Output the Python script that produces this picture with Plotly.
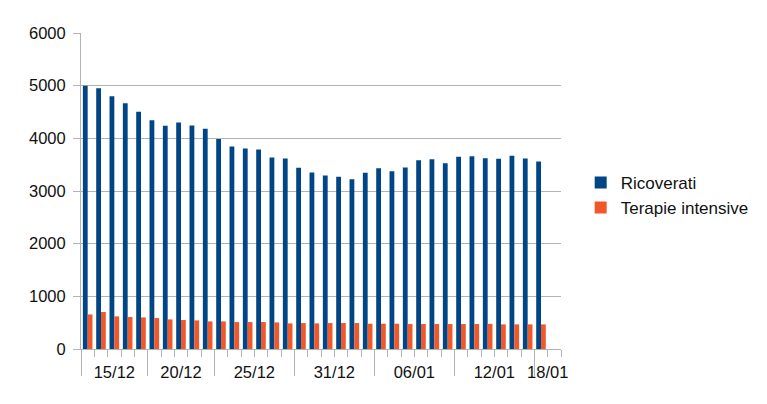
import plotly.graph_objects as go
import pandas as pd

dates = [
    "2020-12-15", "2020-12-16", "2020-12-17", "2020-12-18", "2020-12-19",
    "2020-12-20", "2020-12-21", "2020-12-22", "2020-12-23", "2020-12-24",
    "2020-12-25", "2020-12-26", "2020-12-27", "2020-12-28", "2020-12-29",
    "2020-12-30", "2020-12-31", "2021-01-01", "2021-01-02", "2021-01-03",
    "2021-01-04", "2021-01-05", "2021-01-06", "2021-01-07", "2021-01-08",
    "2021-01-09", "2021-01-10", "2021-01-11", "2021-01-12", "2021-01-13",
    "2021-01-14", "2021-01-15", "2021-01-16", "2021-01-17", "2021-01-18",
]
ricoverati = [
    5000, 4953, 4800, 4668, 4503, 4345, 4238, 4301, 4244, 4181,
    3985, 3846, 3808, 3789, 3637, 3618, 3440, 3351, 3295, 3270,
    3225, 3345, 3430, 3377, 3445, 3585, 3604, 3528, 3648, 3661,
    3623, 3610, 3667, 3616, 3559,
]
terapie_intensive = [
    656, 702, 619, 607, 600, 588, 562, 550, 543, 524,
    524, 512, 512, 512, 505, 486, 492, 486, 493, 493,
    493, 480, 480, 480, 474, 474, 474, 474, 474, 474,
    477, 467, 467, 467, 467,
]
group_starts = ["2020-12-15", "2020-12-20", "2020-12-25", "2020-12-31",
                "2021-01-06", "2021-01-12", "2021-01-18"]
group_labels = ["15/12", "20/12", "25/12", "31/12", "06/01", "12/01", "18/01"]
axis_last_day = "2021-01-19"

BLUE = "#004586"
ORANGE = "#f0582a"
GRID = "#b3b3b3"
FONT = "Liberation Sans, Arial, sans-serif"

half = pd.Timedelta(hours=12)
d = pd.to_datetime(dates)
x_lo = d[0] - half
x_hi = pd.Timestamp(axis_last_day) + half
starts = pd.to_datetime(group_starts)
bounds = [s - half for s in starts] + [x_hi]
centers = [bounds[i] + (bounds[i + 1] - bounds[i]) / 2 for i in range(len(starts))]

fig = go.Figure()
fig.add_trace(go.Bar(x=d, y=ricoverati, name="Ricoverati", marker_color=BLUE,
                     marker_line_width=0))
fig.add_trace(go.Bar(x=d, y=terapie_intensive, name="Terapie intensive",
                     marker_color=ORANGE, marker_line_width=0))
# carrier for the label axis
fig.add_trace(go.Scatter(x=centers, y=[None] * len(centers), xaxis="x2",
                         showlegend=False, hoverinfo="skip", mode="markers"))

fig.update_layout(
    width=767, height=404,
    margin=dict(l=81, r=206, t=33, b=55),
    paper_bgcolor="white", plot_bgcolor="white",
    font=dict(family=FONT, size=16.5, color="#111111"),
    barmode="group", bargap=0.28, bargroupgap=0,
    showlegend=True,
    legend=dict(x=1.041, xanchor="left", y=0.486, yanchor="middle",
                font=dict(size=17), bgcolor="rgba(0,0,0,0)"),
    xaxis=dict(
        type="date", range=[x_lo, x_hi],
        tickmode="array", tickvals=bounds[:-1], ticktext=[""] * (len(bounds) - 1),
        ticks="outside", ticklen=26, tickwidth=1, tickcolor=GRID,
        showline=True, linecolor=GRID, linewidth=1,
        showgrid=False, zeroline=False,
        minor=dict(ticks="outside", ticklen=7, tickwidth=1, tickcolor=GRID,
                   tick0=x_lo, dtick=86400000, showgrid=False),
    ),
    xaxis2=dict(
        type="date", range=[x_lo, x_hi], overlaying="x", anchor="y", side="bottom",
        tickmode="array", tickvals=centers, ticktext=group_labels,
        ticks="outside", ticklen=8, tickcolor="rgba(0,0,0,0)",
        showline=False, showgrid=False, zeroline=False,
        tickfont=dict(size=16.5),
    ),
    yaxis=dict(
        range=[0, 6000], dtick=1000, tick0=0,
        showgrid=True, gridcolor=GRID, gridwidth=1,
        showline=True, linecolor=GRID, linewidth=1,
        ticks="outside", ticklen=7, tickcolor=GRID,
        ticklabelstandoff=4,
        zeroline=False, tickfont=dict(size=16.5),
    ),
)

fig.write_html("out.html")
